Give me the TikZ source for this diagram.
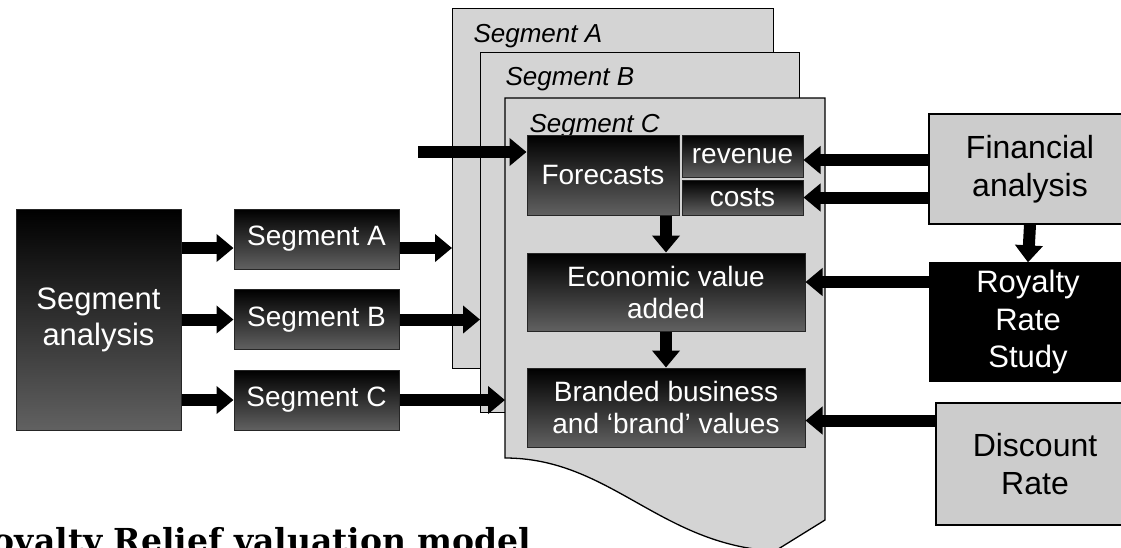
\documentclass[tikz,border=0pt]{standalone}
\usepackage{fontspec}
\setmainfont{Liberation Sans}
\newfontfamily\titlefont{DejaVu Serif}
\usetikzlibrary{arrows.meta,calc}

\begin{document}
\begin{tikzpicture}[x=1pt,y=-1pt,
    darkbox/.style={draw=black!85,line width=1pt,top color=black,bottom color=black!62,
        text=white,inner sep=0pt,align=center,font=\fontsize{28}{32}\selectfont},
    lightbox/.style={draw=black,line width=1.3pt,fill=black!20,inner sep=0pt,
        align=center,font=\fontsize{32}{38}\selectfont},
    pagebox/.style={draw=black,line width=1.3pt,fill=black!17,inner sep=0pt,anchor=north west},
    pagelabel/.style={anchor=base west,font=\itshape\fontsize{26}{30}\selectfont},
    bigarrow/.style={line width=12pt,-{Triangle[length=17pt,width=27pt]}}]
    \useasboundingbox (0,0) rectangle (1121,547);
    % Hojas de los segmentos
    \node[pagebox,minimum width=321pt,minimum height=360pt] (pA) at (452,8) {};
    \node[pagebox,minimum width=319pt,minimum height=360pt] (pB) at (480,52) {};
    \coordinate (pC) at (505,98);
    \draw[pagebox] (pC) -- (825,98) -- (825,520) -- (775,551)
        .. controls (660,545) and (610,458) .. (505,458) -- cycle;
    \node[pagelabel] (labA) at (470,42) {Segment A};
    \node[pagelabel] (labB) at (502,85) {Segment B};
    \node[pagelabel] (labC) at (526,132) {Segment C};
    % Cajas de la izquierda
    \node[darkbox,minimum width=165pt,minimum height=221pt,font=\fontsize{31}{36}\selectfont]
        (sa) at (98.5,319.5) {Segment\\analysis};
    \foreach \s/\y in {A/239,B/319.5,C/400}
        \node[darkbox,minimum width=165pt,minimum height=60pt] (seg\s) at (316.5,\y) {Segment \s};
    % Cajas del centro
    \node[darkbox,minimum width=152pt,minimum height=80pt] (fc) at (603,175) {Forecasts};
    \node[darkbox,minimum width=121pt,minimum height=42pt] (rev) at (742.5,156) {revenue};
    \node[darkbox,minimum width=121pt,minimum height=35pt] (cost) at (742.5,197.5) {costs};
    \node[darkbox,minimum width=278pt,minimum height=78pt] (eva) at (666,292) {Economic value\\added};
    \node[darkbox,minimum width=278pt,minimum height=79pt] (brand) at (666,407.5)
        {Branded business\\and `brand' values};
    % Cajas de la derecha
    \node[lightbox,minimum width=202pt,minimum height=110pt] (fin) at (1030,169) {Financial\\analysis};
    \node[lightbox,fill=black,text=white,minimum width=196pt,minimum height=118pt,
        font=\fontsize{31}{37.5}\selectfont] (roy) at (1028,322) {Royalty\\Rate\\Study};
    \node[lightbox,minimum width=198pt,minimum height=122pt] (disc) at (1035,464) {Discount\\Rate};
    % Flechas
    \draw[bigarrow] ($(sa.east |- segA)+(0,9)$) -- ($(segA.west)+(0,9)$);
    \draw[bigarrow] (sa.east |- segB) -- (segB.west);
    \draw[bigarrow] (sa.east |- segC) -- (segC.west);
    \draw[bigarrow] ($(segA.east)+(0,9)$) -- ($(pA.west |- segA.east)+(0,9)$);
    \draw[bigarrow] (segB.east) -- (pB.west |- segB.east);
    \draw[bigarrow] (segC.east) -- (pC |- segC.east);
    \coordinate (inp) at (418,152);
    \draw[bigarrow] (inp) -- (fc.west |- inp);
    \draw[bigarrow] (eva.north |- fc.south) -- (eva.north);
    \draw[bigarrow] (eva.south) -- (brand.north);
    \draw[bigarrow] (fin.south) -- (roy.north);
    \draw[bigarrow] ($(fin.west |- rev.east)+(0,4)$) -- ($(rev.east)+(0,4)$);
    \draw[bigarrow] (fin.west |- cost.east) -- (cost.east);
    \draw[bigarrow] ($(roy.west |- eva.east)+(0,-10)$) -- ($(eva.east)+(0,-10)$);
    \draw[bigarrow] ($(disc.west |- brand.east)+(0,13)$) -- ($(brand.east)+(0,13)$);
    % Titulo
    \node[anchor=base west,font=\titlefont\bfseries\fontsize{33}{33}\selectfont]
        (title) at (-38,552) {Royalty Relief valuation model};
\end{tikzpicture}
\end{document}
